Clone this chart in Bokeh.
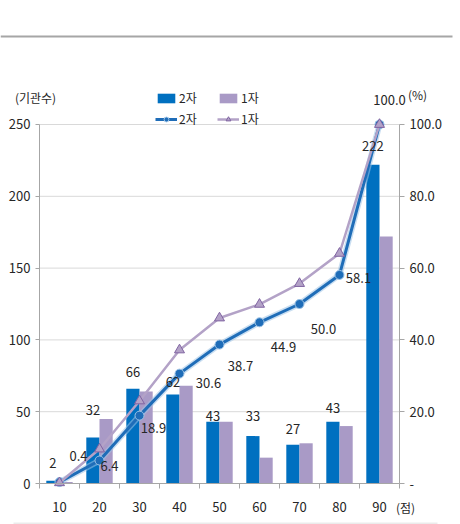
from bokeh.plotting import figure
from bokeh.models import (ColumnDataSource, Range1d, LinearAxis, FixedTicker,
                          LabelSet, Label, Legend, LegendItem, BoxAnnotation,
                          NumeralTickFormatter)
from bokeh.core.properties import value
from bokeh.embed import file_html
from bokeh.resources import INLINE

# ---- data ----
categories = ["10", "20", "30", "40", "50", "60", "70", "80", "90"]
count_2 = [2, 32, 66, 62, 43, 33, 27, 43, 222]
count_1 = [1, 45, 64, 68, 43, 18, 28, 40, 172]
pct_2 = [0.4, 6.4, 18.9, 30.6, 38.7, 44.9, 50.0, 58.1, 100.0]
pct_1 = [0.2, 9.6, 23.0, 37.2, 46.1, 49.9, 55.7, 64.1, 100.0]
left_ticks = [0, 50, 100, 150, 200, 250]
right_ticks = [0, 20, 40, 60, 80, 100]

# label nudges in pixels (style only)
bar_lab_dy = [18, 28, 17, 12, 6, 20, 16, 14, 19]
pct_lab_dx = [19, 10, 14, 29, 21, 24, 24, 19, 10]
pct_lab_dy = [26, -5, -12, -9, -21, -25, -25, -3, 24]

FONT = "'Liberation Sans Narrow', 'Noto Sans CJK KR', sans-serif"
KFONT = "'Noto Sans CJK KR', sans-serif"
TXT = "#262626"
BLUE = "#0070C0"
LBLUE = "#1F6DB8"
PURPLE = "#A99AC6"
PLINE = "#B3A2C7"
AXC = "#A6A6A6"
W, H = 460, 524

x_idx = list(range(len(categories)))
first_edge = x_idx[0] - 0.5
last_edge = x_idx[-1] + 0.5
BAR_W = 0.33

src = ColumnDataSource(dict(
    x=x_idx,
    x2=[i - BAR_W / 2 for i in x_idx],
    x1=[i + BAR_W / 2 for i in x_idx],
    c2=count_2, c1=count_1, p2=pct_2, p1=pct_1,
    c2lab=[str(v) for v in count_2], p2lab=[f"{v:.1f}" for v in pct_2],
    bdy=bar_lab_dy, pdx=pct_lab_dx, pdy=pct_lab_dy,
))

# frame covers the whole canvas; axes are pinned with fixed_location
p = figure(width=W, height=H,
           x_range=Range1d(-1.475, 10.025),
           y_range=Range1d(-28.55, 336.35),
           output_backend="svg", toolbar_location=None,
           min_border=0, min_border_left=0, min_border_right=0,
           min_border_top=0, min_border_bottom=0,
           x_axis_type=None, y_axis_type=None)
p.extra_y_ranges = {"pct": Range1d(-11.42, 134.54)}
p.outline_line_color = None
p.background_fill_color = "white"
p.border_fill_color = "white"
p.xgrid.visible = False
p.ygrid.visible = False

def style_axis(ax):
    ax.axis_line_color = AXC
    ax.major_tick_line_color = AXC
    ax.minor_tick_line_color = None
    ax.major_tick_in = 0
    ax.major_label_text_font = FONT
    ax.major_label_text_font_size = "13px"
    ax.major_label_text_color = TXT

# left axis
ly = LinearAxis(ticker=FixedTicker(ticks=left_ticks), fixed_location=first_edge,
                bounds=(left_ticks[0], left_ticks[-1]))
style_axis(ly)
ly.major_tick_out = 4
ly.major_label_standoff = 5
p.add_layout(ly, "left")

# right axis
ry = LinearAxis(y_range_name="pct", ticker=FixedTicker(ticks=right_ticks),
                formatter=NumeralTickFormatter(format="0.0"),
                major_label_overrides={0: "-"}, fixed_location=last_edge,
                bounds=(right_ticks[0], right_ticks[-1]))
style_axis(ry)
ry.major_tick_out = 5
ry.major_label_standoff = 5
p.add_layout(ry, "right")

# x axis: boundary ticks + baseline
edges = [first_edge] + [i + 0.5 for i in x_idx]
xt = LinearAxis(ticker=FixedTicker(ticks=edges), fixed_location=0,
                bounds=(first_edge, last_edge),
                major_label_overrides={e: "" for e in edges})
style_axis(xt)
xt.major_tick_out = 5
p.add_layout(xt, "below")

# x axis: category labels
xl = LinearAxis(ticker=FixedTicker(ticks=x_idx), fixed_location=0,
                major_label_overrides={i: c for i, c in zip(x_idx, categories)})
style_axis(xl)
xl.axis_line_color = None
xl.major_tick_line_color = None
xl.major_label_standoff = 12
p.add_layout(xl, "below")

# horizontal grid lines between the axes
p.segment(x0=first_edge, x1=last_edge, y0=left_ticks[1:], y1=left_ticks[1:],
          line_color="#D9D9D9", line_width=1)

# bars
b2 = p.vbar(x="x2", top="c2", bottom=0, width=BAR_W, source=src,
            fill_color=BLUE, line_color=None)
b1 = p.vbar(x="x1", top="c1", bottom=0, width=BAR_W, source=src,
            fill_color=PURPLE, line_color=None)

# lines
p.line(x="x", y="p2", source=src, y_range_name="pct",
       line_color="#9DC3E6", line_width=6, line_alpha=0.55)
l2 = p.line(x="x", y="p2", source=src, y_range_name="pct",
            line_color=LBLUE, line_width=3)
m2 = p.scatter(x="x", y="p2", source=src, y_range_name="pct", marker="circle",
               size=9, fill_color=LBLUE, line_color="#9DC3E6", line_width=1)
l1 = p.line(x="x", y="p1", source=src, y_range_name="pct",
            line_color=PLINE, line_width=2.5)
m1 = p.scatter(x="x", y="p1", source=src, y_range_name="pct", marker="triangle",
               size=10, fill_color=PLINE, line_color="#8064A2", line_width=1)

# data labels
p.add_layout(LabelSet(x="x2", y="c2", text="c2lab", y_offset="bdy", source=src,
                      text_align="center", text_baseline="middle",
                      text_font=value(FONT), text_font_size="13px", text_color=TXT))
p.add_layout(LabelSet(x="x", y="p2", text="p2lab", x_offset="pdx", y_offset="pdy",
                      y_range_name="pct", source=src, text_align="center",
                      text_baseline="middle", text_font=value(FONT),
                      text_font_size="13px", text_color=TXT))

# unit labels (screen px from bottom-left)
for txt, x, y in [("(기관수)", 35, H - 97), ("(%)", 417, H - 94), ("(점)", 405, H - 507)]:
    p.add_layout(Label(x=x, y=y, x_units="screen", y_units="screen", text=txt,
                       text_align="center", text_baseline="middle",
                       text_font=KFONT, text_font_size="12px", text_color=TXT))

# top rule and faint bottom band
p.add_layout(BoxAnnotation(left=0, right=452, bottom=H - 37, top=H - 35,
                           left_units="screen", right_units="screen",
                           bottom_units="screen", top_units="screen",
                           fill_color=AXC, fill_alpha=1, line_color=None))
p.add_layout(BoxAnnotation(left=13, right=437, bottom=0, top=2,
                           left_units="screen", right_units="screen",
                           bottom_units="screen", top_units="screen",
                           fill_color="#EBEBEB", fill_alpha=1, line_color=None))

# legend
legend = Legend(items=[LegendItem(label="2자", renderers=[b2]),
                       LegendItem(label="1자", renderers=[b1]),
                       LegendItem(label="2자", renderers=[l2, m2]),
                       LegendItem(label="1자", renderers=[l1, m1])],
                orientation="horizontal", ncols=2,
                location=(155, H - 127),
                glyph_width=22, glyph_height=12, label_height=12, label_width=34,
                label_standoff=2, spacing=4, padding=0, margin=0,
                border_line_color=None, background_fill_alpha=0,
                label_text_font=KFONT, label_text_font_size="12px",
                label_text_color=TXT)
p.add_layout(legend, "center")

open("out.html", "w").write(file_html(p, INLINE))
